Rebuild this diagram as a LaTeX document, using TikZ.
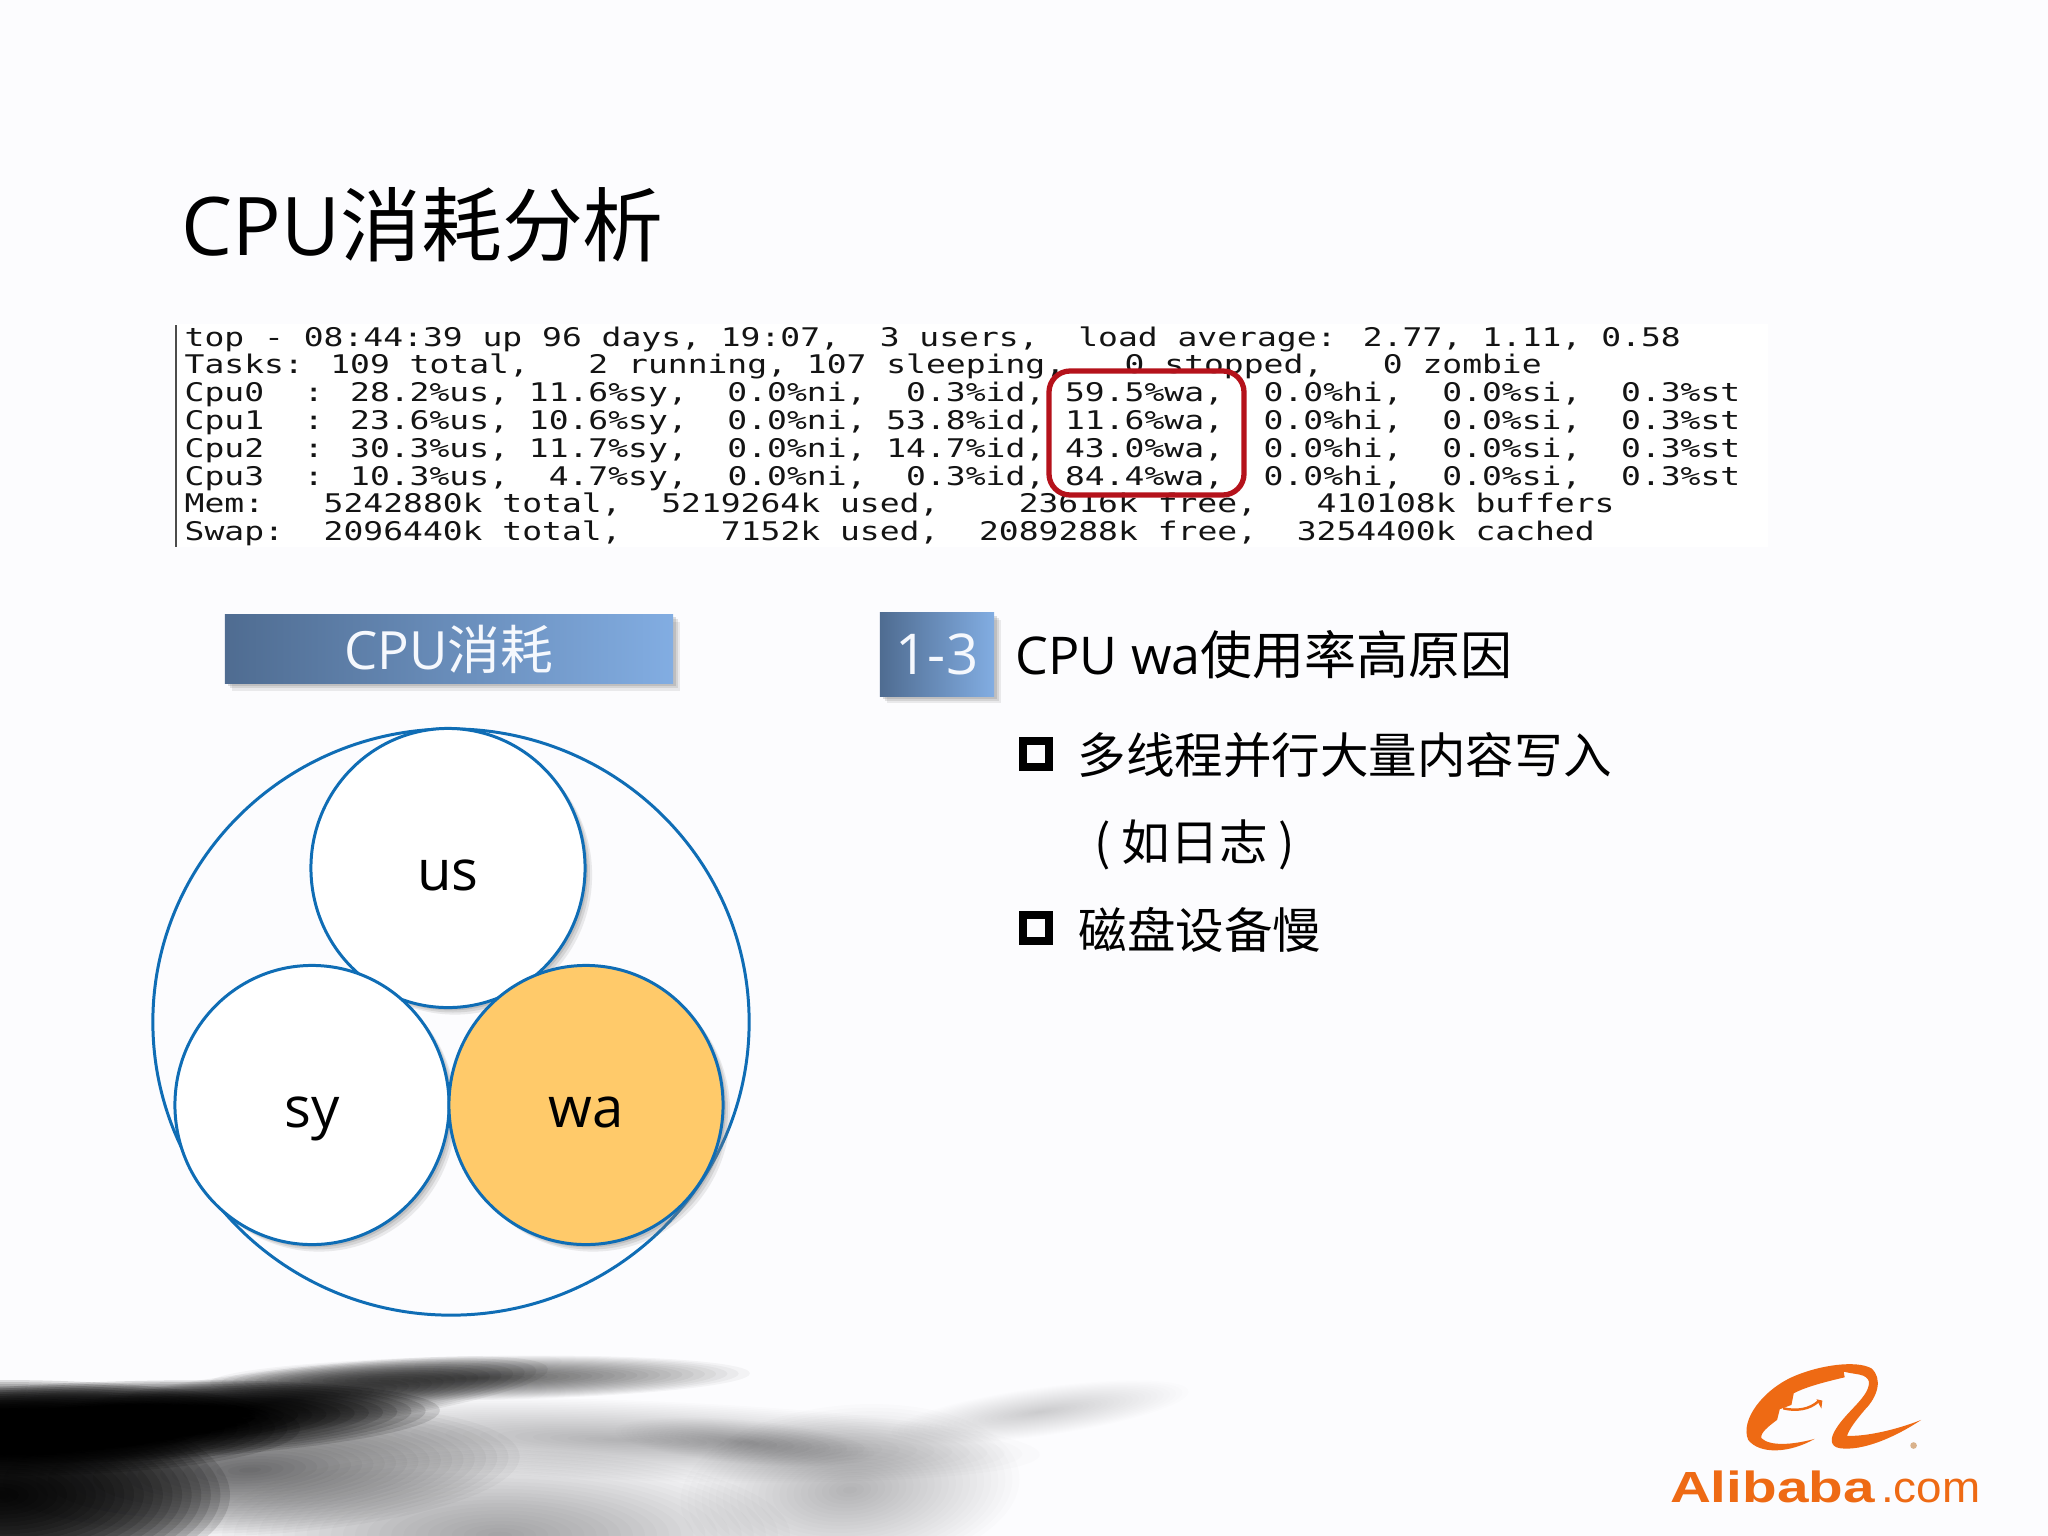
\documentclass[tikz,border=0pt]{standalone}
\usepackage{fontspec}
\setmainfont{Noto Sans CJK SC}
\newfontfamily\latinfont{Open Sans}
\newfontfamily\termfont[FakeStretch=1.285]{DejaVu Sans Mono}
\newfontfamily\logofont[FakeStretch=1.3]{Liberation Sans}
\newfontfamily\comfont[FakeStretch=1.05]{Liberation Sans}
\usetikzlibrary{positioning}
\usetikzlibrary{shadows}
\usetikzlibrary{shapes.geometric}
\definecolor{slidebg}{HTML}{FCFCFE}
\definecolor{mring}{HTML}{0F6DB5}
\definecolor{mwa}{HTML}{FFCA6A}
\definecolor{mred}{HTML}{B5121B}
\definecolor{mleft}{HTML}{4F6C91}
\definecolor{mright}{HTML}{82ADE2}
\definecolor{morange}{HTML}{EE6A14}
\tikzset{
    softshadow/.style={
        drop shadow={shadow xshift=2pt, shadow yshift=-2pt, opacity=0.15},
        drop shadow={shadow xshift=1.4pt, shadow yshift=-1.4pt, opacity=0.2},
        drop shadow={shadow xshift=0.8pt, shadow yshift=-0.8pt, opacity=0.25}},
    disc/.style={ellipse, draw=mring, line width=0.85pt, fill=white, inner sep=0pt,
        minimum width=274*0.2845pt, minimum height=279*0.2845pt, softshadow,
        text height=12.6pt, text depth=0pt,
        font=\fontsize{16}{16}\selectfont\latinfont},
    tagbox/.style={rectangle, left color=mleft, right color=mright, text=white!92!mright,
        inner sep=0pt, softshadow},
    termrow/.style={anchor=base west, inner sep=0pt, text=black!92,
        font=\fontsize{7.3}{7.3}\selectfont\termfont},
    bodytext/.style={anchor=west, inner sep=0pt, font=\fontsize{13.8}{13.8}\selectfont},
    tick/.style={rectangle, draw=black, line width=2.4pt, inner sep=0pt, minimum size=26*0.2845pt}
}

\begin{document}
\begin{tikzpicture}[x=0.01cm, y=-0.01cm]
    \useasboundingbox (0, 0) rectangle (2048, 1536);
    \fill [slidebg] (0, 0) rectangle (2048, 1536);

    % ink wash along the bottom
    \begin{scope}
        \clip (0, 0) rectangle (2048, 1536);
        \foreach \bx/\by/\brx/\bry/\brot/\bop in {
            500/1535/290/85/0/0.015,
            850/1490/170/85/5/0.010,
            620/1440/420/40/-2/0.011,
            745/1442/130/22/-5/0.008,
            1040/1412/150/24/8/0.008,
            250/1470/270/65/3/0.03,
            0/1495/230/95/0/0.12,
            100/1422/340/40/2/0.12,
            0/1428/300/48/0/0.12,
            480/1378/270/22/1/0.035,
            270/1403/280/32/7/0.06} {
            \foreach \k in {1,...,24} {
                \fill [black, opacity=\bop, shift={(\bx, \by)}, rotate=\brot]
                    (0, 0) ellipse [x radius=\brx*\k/24, y radius=\bry*\k/24];
            }
        }
    \end{scope}

    \node [anchor=west, inner sep=0pt, font=\fontsize{23}{23}\selectfont] (title) at (181, 225)
        {{\latinfont CPU}消耗分析};

    % terminal dump
    \fill [white] (174, 324) rectangle (1768, 547);
    \draw [black!70, line width=0.5pt] (176, 325) -- (176, 547);
    \node [termrow] (row0) at (184, 346) {top - 08:44:39 up 96 days, 19:07,~~3 users,~~load average: 2.77, 1.11, 0.58};
    \node [termrow] (row1) at (184, 373) {Tasks: 109 total,~~~2 running, 107 sleeping,~~~0 stopped,~~~0 zombie};
    \node [termrow] (row2) at (184, 401) {Cpu0~~: 28.2\%us, 11.6\%sy,~~0.0\%ni,~~0.3\%id, 59.5\%wa,~~0.0\%hi,~~0.0\%si,~~0.3\%st};
    \node [termrow] (row3) at (184, 429) {Cpu1~~: 23.6\%us, 10.6\%sy,~~0.0\%ni, 53.8\%id, 11.6\%wa,~~0.0\%hi,~~0.0\%si,~~0.3\%st};
    \node [termrow] (row4) at (184, 457) {Cpu2~~: 30.3\%us, 11.7\%sy,~~0.0\%ni, 14.7\%id, 43.0\%wa,~~0.0\%hi,~~0.0\%si,~~0.3\%st};
    \node [termrow] (row5) at (184, 485) {Cpu3~~: 10.3\%us,~~4.7\%sy,~~0.0\%ni,~~0.3\%id, 84.4\%wa,~~0.0\%hi,~~0.0\%si,~~0.3\%st};
    \node [termrow] (row6) at (184, 512) {Mem:~~~5242880k total,~~5219264k used,~~~~23616k free,~~~410108k buffers};
    \node [termrow] (row7) at (184, 540) {Swap:~~2096440k total,~~~~~7152k used,~~2089288k free,~~3254400k cached};
    \draw [mred, line width=1.5pt, rounded corners=6pt] (1049, 371) rectangle (1244, 495);

    % left column
    \node [tagbox, minimum width=448*0.2845pt, minimum height=69*0.2845pt,
        font=\fontsize{15}{15}\selectfont] (cputag) at (449, 649) {{\latinfont CPU}消耗};
    \node [ellipse, draw=mring, line width=0.85pt, inner sep=0pt,
        minimum width=596*0.2845pt, minimum height=586*0.2845pt] (whole) at (451, 1022) {};
    \node [disc] (us) at (448, 868) {us};
    \node [disc] (sy) at (312, 1105) {sy};
    \node [disc, fill=mwa] (wa) at (586, 1105) {wa};

    % right column
    \node [tagbox, minimum width=114*0.2845pt, minimum height=83*0.2845pt,
        font=\fontsize{16}{16}\selectfont\latinfont] (numtag) at (937, 654.5) {1-3};
    \node [bodytext, font=\fontsize{14.8}{14.8}\selectfont] (cause) at (1015, 655) {{\latinfont CPU wa}使用率高原因};
    \node [tick] (tick1) at (1036, 754) {};
    \node [bodytext] (item1) at (1077, 755) {多线程并行大量内容写入};
    \node [bodytext] (item1b) at (1094, 845) {( 如日志 )};
    \node [tick] (tick2) at (1036, 928) {};
    \node [bodytext] (item2) at (1078, 930) {磁盘设备慢};

    % logo
    \begin{scope}[shift={(1640, 1340)}, x=0.00333cm, y=-0.00333cm]
        \fill [morange] (525, 297) .. controls (450, 340) and (360, 345) .. (325, 300)
            .. controls (300, 240) and (370, 150) .. (460, 110)
            .. controls (540, 75) and (650, 60) .. (695, 85)
            .. controls (730, 115) and (715, 170) .. (675, 210)
            .. controls (650, 240) and (630, 265) .. (622, 288)
            .. controls (680, 290) and (770, 270) .. (845, 240)
            .. controls (770, 290) and (670, 335) .. (600, 325)
            .. controls (570, 320) and (570, 295) .. (590, 265)
            .. controls (625, 210) and (690, 170) .. (688, 125)
            .. controls (680, 100) and (650, 105) .. (612, 95)
            -- (615, 112) .. controls (560, 125) and (500, 140) .. (462, 160)
            -- (455, 195) -- (420, 208) -- (412, 240)
            .. controls (385, 260) and (360, 280) .. (365, 295)
            .. controls (390, 320) and (460, 315) .. (525, 297) -- cycle;
        \draw [morange, line width=0.7pt] (430, 205) .. controls (470, 215) and (510, 208) .. (535, 185);
        \fill [morange] (530, 178) -- (548, 182) -- (545, 206) -- cycle;
        \fill [brown!60!white] (822, 317) circle (10);
        \node [anchor=base west, inner sep=0pt, text=morange, font=\fontsize{12.4}{12.4}\selectfont\logofont\bfseries] (logoname) at (88, 487) {Alibaba};
        \node [anchor=base west, inner sep=0pt, text=morange, font=\fontsize{12.4}{12.4}\selectfont\comfont] (logocom) at (722, 487) {.com};
    \end{scope}
\end{tikzpicture}
\end{document}
